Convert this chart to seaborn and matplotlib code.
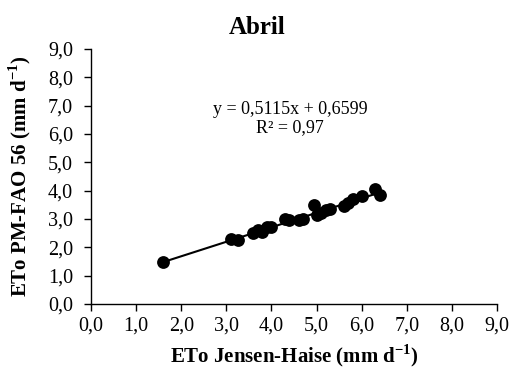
import matplotlib
matplotlib.use("Agg")
import matplotlib.pyplot as plt
import seaborn as sns
import numpy as np
import pandas as pd

# Data
eto_jh = [1.60, 3.10, 3.25, 3.60, 3.70, 3.80, 3.90, 4.00, 4.30, 4.40, 4.60, 4.70,
          4.95, 5.00, 5.10, 5.20, 5.30, 5.60, 5.70, 5.80, 6.00, 6.30, 6.40]
eto_pm = [1.48, 2.30, 2.25, 2.50, 2.60, 2.55, 2.70, 2.70, 3.00, 2.95, 2.95, 3.00,
          3.50, 3.15, 3.20, 3.30, 3.35, 3.45, 3.55, 3.70, 3.80, 4.05, 3.85]
slope = 0.5115
intercept = 0.6599
r2_text = "R² = 0,97"
eq_text = "y = 0,5115x + 0,6599"
ticks = [0, 1, 2, 3, 4, 5, 6, 7, 8, 9]
tick_labels = ["0,0", "1,0", "2,0", "3,0", "4,0", "5,0", "6,0", "7,0", "8,0", "9,0"]

sns.set_theme(style="ticks")
plt.rcParams['font.family'] = ['Liberation Serif', 'DejaVu Serif']
plt.rcParams['mathtext.fontset'] = 'custom'
plt.rcParams['mathtext.rm'] = 'Liberation Serif'
plt.rcParams['mathtext.bf'] = 'Liberation Serif:bold'
plt.rcParams['text.color'] = 'black'
plt.rcParams['axes.labelcolor'] = 'black'

df = pd.DataFrame({"jh": eto_jh, "pm": eto_pm})

fig = plt.figure(figsize=(5.14, 3.68), dpi=100)
ax = fig.add_axes([0.177, 0.174, 0.790, 0.693])

xl = np.array([min(eto_jh), max(eto_jh)])
ax.plot(xl, slope * xl + intercept, color="black", lw=1.5, zorder=2)
sns.scatterplot(data=df, x="jh", y="pm", ax=ax, color="black", s=85,
                edgecolor="black", linewidth=0, zorder=3, legend=False)

ax.set_xlim(0, 9)
ax.set_ylim(0, 9)
ax.set_xticks(ticks)
ax.set_xticklabels(tick_labels, fontsize=14.5)
ax.set_yticks(ticks)
ax.set_yticklabels(tick_labels, fontsize=14.5)
ax.tick_params(direction="out", length=5, width=1, color="black", labelcolor="black", pad=4)
ax.tick_params(axis="y", pad=8)
for s in ["left", "bottom"]:
    ax.spines[s].set_color("black")
    ax.spines[s].set_linewidth(1)
for s in ["top", "right"]:
    ax.spines[s].set_visible(False)

ax.set_xlabel(r"ETo Jensen-Haise (mm d$^{\mathbf{-1}}$)", fontsize=15, fontweight="bold")
ax.set_ylabel(r"ETo PM-FAO 56 (mm d$^{\mathbf{-1}}$)", fontsize=15, fontweight="bold")
ax.xaxis.set_label_coords(0.5, -0.15)
ax.yaxis.set_label_coords(-0.143, 0.5)

fig.text(0.5, 0.924, "Abril", ha="center", va="center", fontsize=18, fontweight="bold")
ax.text(0.49, 0.761, eq_text, transform=ax.transAxes, ha="center", va="center", fontsize=13)
ax.text(0.49, 0.69, r2_text, transform=ax.transAxes, ha="center", va="center", fontsize=13)

fig.savefig("out.png", dpi=100)
